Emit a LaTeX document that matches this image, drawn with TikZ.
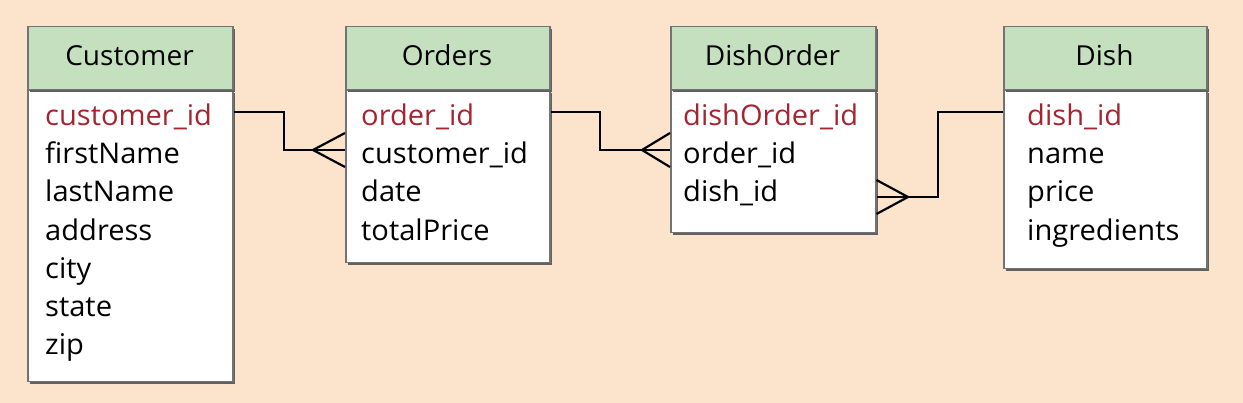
\documentclass[tikz,border=0pt]{standalone}
\usepackage{fontspec}
\setmainfont[FakeStretch=1.02]{Open Sans}
\usetikzlibrary{calc,shadows}
\definecolor{bg}{RGB}{252,228,204}
\definecolor{hdrgreen}{RGB}{197,224,190}
\definecolor{keyred}{RGB}{166,36,48}
\begin{document}
\begin{tikzpicture}[x=1pt,y=-1pt,
  tbl/.style={draw=black!55, line width=1.5pt, anchor=north west, inner sep=0pt,
    drop shadow={shadow xshift=2.5pt, shadow yshift=-2.5pt, fill=black!62, opacity=1}},
  hdr/.style={tbl, fill=hdrgreen, minimum height=63pt},
  body/.style={tbl, fill=white},
  title/.style={anchor=base, font=\fontsize{27.5}{33}\selectfont, text=black},
  field/.style={anchor=base west, font=\fontsize{28.5}{34}\selectfont, text=black, inner sep=0pt},
  key/.style={field, text=keyred},
  conn/.style={draw=black, line width=2.2pt},
]
\fill[bg] (0,0) rectangle (1243,403);
\useasboundingbox (0,0) rectangle (1243,403);

% Customer
\node[body, minimum width=205pt, minimum height=291pt] (custB) at (27,90) {};
\node[hdr, minimum width=205pt] (custH) at (27,26) {};
\node[title] (custT) at (129.5,66) {Customer};
\node[key] (c1) at (45,125.5) {customer\_id};
\node[field] (c2) at (45,163.7) {firstName};
\node[field] (c3) at (45,201.9) {lastName};
\node[field] (c4) at (45,240.1) {address};
\node[field] (c5) at (45,278.3) {city};
\node[field] (c6) at (45,316.5) {state};
\node[field] (c7) at (45,354.7) {zip};

% Orders
\node[body, minimum width=204pt, minimum height=172pt] (ordB) at (345,90) {};
\node[hdr, minimum width=204pt] (ordH) at (345,26) {};
\node[title] (ordT) at (447,66) {Orders};
\node[key] (o1) at (361,125.5) {order\_id};
\node[field] (o2) at (361,163.7) {customer\_id};
\node[field] (o3) at (361,201.9) {date};
\node[field] (o4) at (361,240.1) {totalPrice};

% DishOrder
\node[body, minimum width=205pt, minimum height=142pt] (doB) at (670,90) {};
\node[hdr, minimum width=205pt] (doH) at (670,26) {};
\node[title] (doT) at (772.5,66) {DishOrder};
\node[key] (d1) at (683,125.5) {dishOrder\_id};
\node[field] (d2) at (683,163.7) {order\_id};
\node[field] (d3) at (683,201.9) {dish\_id};

% Dish
\node[body, minimum width=203pt, minimum height=178pt] (dishB) at (1003,90) {};
\node[hdr, minimum width=203pt] (dishH) at (1003,26) {};
\node[title] (dishT) at (1104.5,66) {Dish};
\node[key] (s1) at (1027,125.5) {dish\_id};
\node[field] (s2) at (1027,163.7) {name};
\node[field] (s3) at (1027,201.9) {price};
\node[field] (s4) at (1027,240.1) {ingredients};

% Customer -> Orders
\coordinate (j1a) at (284,112);
\coordinate (j1b) at (284,150);
\coordinate (v1) at (313,150);
\draw[conn] (custB.east |- j1a) -- (j1a) -- (j1b) -- (ordB.west |- j1b);
\draw[conn] ($(ordB.west |- v1)+(0,-17)$) -- (v1) -- ($(ordB.west |- v1)+(0,17)$);

% Orders -> DishOrder
\coordinate (j2a) at (600,112);
\coordinate (j2b) at (600,150);
\coordinate (v2) at (642,150);
\draw[conn] (ordB.east |- j2a) -- (j2a) -- (j2b) -- (doB.west |- j2b);
\draw[conn] ($(doB.west |- v2)+(0,-17)$) -- (v2) -- ($(doB.west |- v2)+(0,17)$);

% Dish -> DishOrder
\coordinate (j3a) at (938,112);
\coordinate (j3b) at (938,197);
\coordinate (v3) at (908,197);
\draw[conn] (dishB.west |- j3a) -- (j3a) -- (j3b) -- (doB.east |- j3b);
\draw[conn] ($(doB.east |- v3)+(0,-17)$) -- (v3) -- ($(doB.east |- v3)+(0,17)$);
\end{tikzpicture}
\end{document}
